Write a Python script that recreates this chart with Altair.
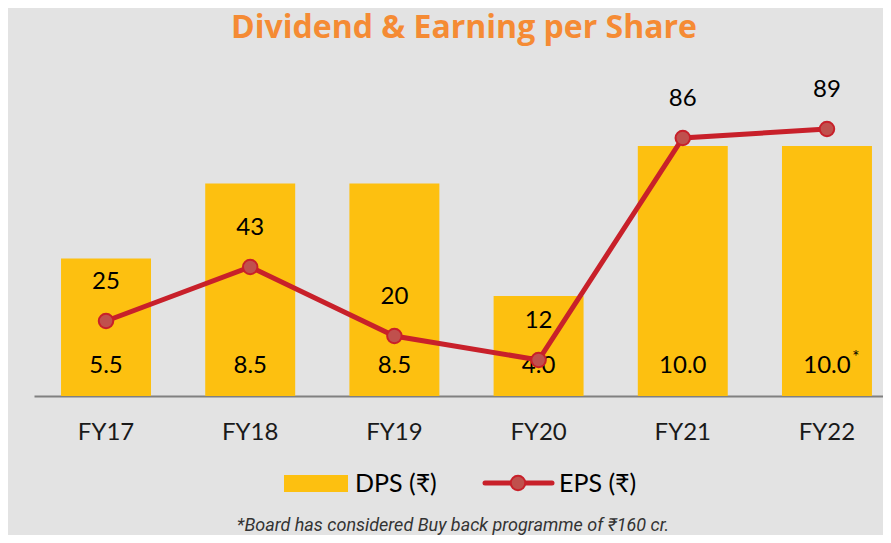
import altair as alt
import pandas as pd

years = ["FY17", "FY18", "FY19", "FY20", "FY21", "FY22"]
dps = [5.5, 8.5, 8.5, 4.0, 10.0, 10.0]
eps = [25, 43, 20, 12, 86, 89]
dps_marks = ["", "", "", "", "", "*"]

title_text = "Dividend & Earning per Share"
legend_labels = ["DPS (₹)", "EPS (₹)"]
footnote = "*Board has considered Buy back programme of ₹160 cr."

BAR = "#FDC010"
LINE = "#C8202A"
DOT = "#C0504D"
ORANGE = "#F58B34"
FONT = "Lato"

df = pd.DataFrame({
    "year": years,
    "dps": dps,
    "eps": eps,
    "dps_label": [f"{v:.1f}" for v in dps],
    "mark": dps_marks,
})

W, H = 849, 300

x = alt.X("year:N", sort=years,
          scale=alt.Scale(paddingInner=0.376, paddingOuter=0.132, align=0.71),
          axis=alt.Axis(title=None, labelAngle=0, ticks=False, domain=True,
                        domainColor="#808080", domainWidth=2,
                        labelFontSize=24, labelFont=FONT, labelColor="#1a1a1a",
                        labelPadding=24))

base = alt.Chart(df)

bars = base.mark_bar(color=BAR).encode(
    x=x,
    y=alt.Y("dps:Q", scale=alt.Scale(domain=[0, 12]), axis=None),
)
dps_text = base.mark_text(font=FONT, fontSize=24, color="#000000", baseline="middle").encode(
    x=alt.X("year:N", sort=years),
    y=alt.value(270),
    text="dps_label:N",
)
star = base.mark_text(font=FONT, fontSize=17, color="#000000", baseline="middle", dx=29).encode(
    x=alt.X("year:N", sort=years),
    y=alt.value(262),
    text="mark:N",
)
dps_layer = alt.layer(bars, dps_text, star)

line = base.mark_line(color=LINE, strokeWidth=5).encode(
    x=alt.X("year:N", sort=years),
    y=alt.Y("eps:Q", scale=alt.Scale(domain=[0, 100]), axis=None),
)
pts = base.mark_point(filled=True, size=210, fill=DOT, stroke=LINE, strokeWidth=2, opacity=1).encode(
    x=alt.X("year:N", sort=years),
    y=alt.Y("eps:Q", scale=alt.Scale(domain=[0, 100]), axis=None),
)
eps_text = base.mark_text(font=FONT, fontSize=24, color="#000000", baseline="middle", dy=-39).encode(
    x=alt.X("year:N", sort=years),
    y=alt.Y("eps:Q", scale=alt.Scale(domain=[0, 100]), axis=None),
    text="eps:Q",
)
eps_layer = alt.layer(line, pts, eps_text)

one = alt.Chart(pd.DataFrame({"t": [title_text], "f": [footnote],
                              "l1": [legend_labels[0]], "l2": [legend_labels[1]]}))

title = one.mark_text(font="Open Sans", fontSize=32, fontWeight="bold", color=ORANGE,
                      baseline="middle", align="center").encode(
    x=alt.value(430), y=alt.value(-68), text="t:N")
foot = one.mark_text(font="Roboto", fontSize=18, fontStyle="italic", color="#333333",
                     baseline="middle", align="center").encode(
    x=alt.value(419), y=alt.value(430), text="f:N")

leg_rect = one.mark_rect(color=BAR).encode(
    x=alt.value(250), x2=alt.value(314), y=alt.value(379), y2=alt.value(396))
leg_t1 = one.mark_text(font=FONT, fontSize=25, color="#000000", baseline="middle", align="left").encode(
    x=alt.value(321), y=alt.value(388), text="l1:N")
leg_line = one.mark_rule(color=LINE, strokeWidth=5, strokeCap="round").encode(
    x=alt.value(451), x2=alt.value(518), y=alt.value(387))
leg_pt = one.mark_point(filled=True, size=210, fill=DOT, stroke=LINE, strokeWidth=2, opacity=1).encode(
    x=alt.value(484), y=alt.value(387))
leg_t2 = one.mark_text(font=FONT, fontSize=25, color="#000000", baseline="middle", align="left").encode(
    x=alt.value(525), y=alt.value(388), text="l2:N")

chart = alt.layer(
    dps_layer, eps_layer, title, foot, leg_rect, leg_t1, leg_line, leg_pt, leg_t2
).resolve_scale(y="independent").properties(
    width=W, height=H,
    padding={"left": 26, "top": 88, "right": 0, "bottom": 139},
    autosize=alt.AutoSizeParams(type="none"),
    background="#E3E3E3",
).configure_view(stroke=None)

chart.save("out.html", embed_options={"renderer": "svg", "actions": False})
